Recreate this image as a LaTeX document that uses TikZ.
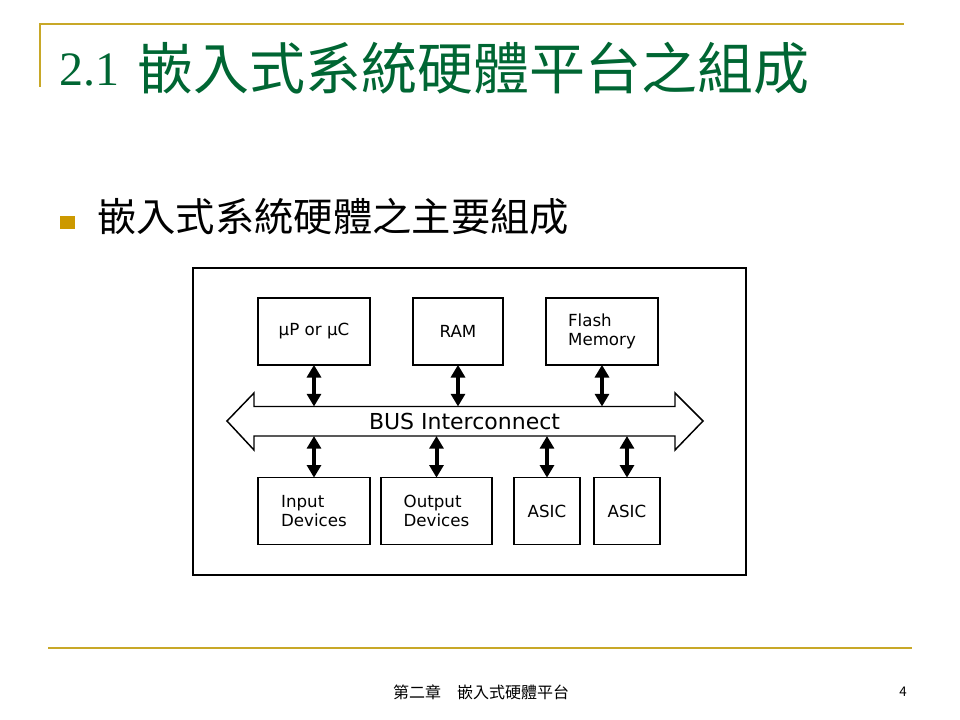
\documentclass[tikz,border=0pt]{standalone}
\usepackage{fontspec}
\setmainfont{DejaVu Sans}
\newfontfamily\cjk{Noto Sans CJK TC}
\newfontfamily\titleserif{Liberation Serif}
\usetikzlibrary{arrows.meta,positioning}
\definecolor{titlegreen}{RGB}{0,102,51}
\definecolor{rulegold}{RGB}{200,168,40}
\definecolor{bulletgold}{RGB}{204,153,0}

\begin{document}
\begin{tikzpicture}[x=0.75pt,y=-0.75pt,
	part/.style={draw,line width=1.1pt,inner sep=0pt,outer sep=0pt,minimum height=50pt,font=\fontsize{12.5pt}{14.5pt}\selectfont,align=left},
	buslink/.style={line width=3pt,{Triangle[width=10.5pt,length=9.5pt]}-{Triangle[width=10.5pt,length=9.5pt]}}]
	\useasboundingbox (0,0) rectangle (960,720);
	% slide rules
	\draw[rulegold,line width=1.5pt] (40,87) -- (40,24) -- (904,24);
	\draw[rulegold,line width=1.5pt] (48,648) -- (912,648);
	\node[anchor=base west,inner sep=0pt,text=titlegreen] (title) at (59,86)
		{\fontsize{36pt}{40pt}\titleserif 2.1\hspace{14pt}\fontsize{42pt}{44pt}\cjk\raisebox{-3pt}{嵌入式系統硬體平台之組成}};
	\fill[bulletgold] (60,216) rectangle (75,229);
	\node[anchor=west,inner sep=0pt] (sub) at (97,217)
		{\fontsize{29.5pt}{32pt}\cjk 嵌入式系統硬體之主要組成};
	% board
	\draw[line width=1.1pt] (193,268) rectangle (746,575);
	\node[part,minimum width=84pt] (cpu) at (314,331.5) {µP or µC};
	\node[part,minimum width=67.5pt] (ram) at (458,331.5) {RAM};
	\node[part,minimum width=84pt] (flash) at (602,331.5) {Flash\\Memory};
	\node[part,minimum width=84pt] (input) at (314,511) {Input\\Devices};
	\node[part,minimum width=83pt] (output) at (436.5,511) {Output\\Devices};
	\node[part,minimum width=49.5pt] (asicA) at (547,511) {ASIC};
	\node[part,minimum width=49.5pt] (asicB) at (627,511) {ASIC};
	% bus
	\node[inner sep=0pt,outer sep=0pt,minimum width=315.75pt,minimum height=22.125pt,font=\fontsize{16.5pt}{18pt}\selectfont] (bus) at (464.5,421.25) {BUS Interconnect};
	\draw[line width=1.1pt,line join=miter] (bus.north west) -- (bus.north east) -- (675,393) -- (703,421) -- (675,450)
		-- (bus.south east) -- (bus.south west) -- (254,450) -- (227,421) -- (254,393) -- cycle;
	\foreach \n in {cpu,ram,flash}
		\draw[buslink] (\n.south) -- (\n.south |- bus.north);
	\foreach \n in {input,output,asicA,asicB}
		\draw[buslink] (\n.north) -- (\n.north |- bus.south);
	% footer
	\node[inner sep=0pt] (foot) at (481,692) {\fontsize{12pt}{14pt}\cjk 第二章　嵌入式硬體平台};
	\node[inner sep=0pt] (page) at (903,692) {\fontsize{10pt}{12pt}\cjk 4};
\end{tikzpicture}
\end{document}
